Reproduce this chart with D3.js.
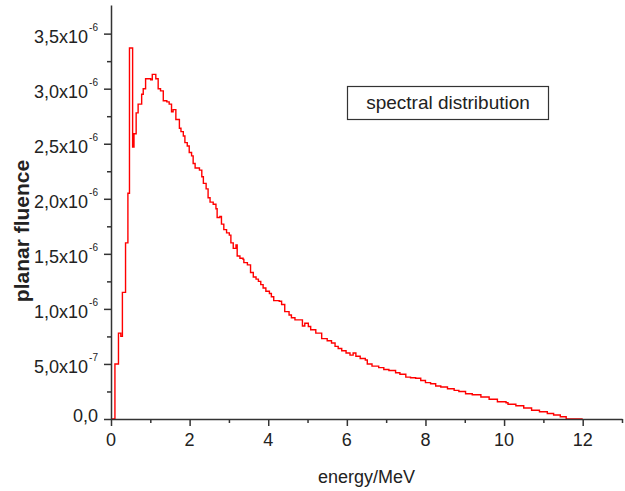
<!DOCTYPE html>
<html>
<head>
<meta charset="utf-8">
<script src="https://cdn.jsdelivr.net/npm/d3@7"></script>
<style>
  html, body { margin: 0; padding: 0; background: #fff; }
  svg { display: block; font-family: "Liberation Sans", Arial, sans-serif; }
</style>
</head>
<body>
<svg id="chart" width="625" height="491"></svg>
<script>
// ---- data (energy in MeV = left bin edge, fluence in units of 1e-6) ----
const energy = [
  0.00, 0.10, 0.19, 0.25, 0.29, 0.37, 0.43, 0.47, 0.55, 0.585,
  0.64, 0.69, 0.78, 0.82, 0.88, 1.01, 1.05, 1.14, 1.20, 1.26,
  1.33, 1.42, 1.48, 1.54, 1.58, 1.65, 1.74, 1.78, 1.84, 1.88,
  1.94, 1.99, 2.05, 2.09, 2.14, 2.25, 2.31, 2.35, 2.42, 2.47,
  2.52, 2.60, 2.67, 2.70, 2.77, 2.81, 2.87, 2.94, 3.01, 3.05,
  3.11, 3.18, 3.21, 3.28, 3.36, 3.38, 3.47, 3.55, 3.62, 3.69,
  3.75, 3.81, 3.87, 3.94, 4.03, 4.08, 4.14, 4.28, 4.34, 4.42,
  4.53, 4.59, 4.68, 4.87, 4.93, 5.02, 5.08, 5.21, 5.36, 5.50,
  5.61, 5.70, 5.78, 5.87, 5.98, 6.08, 6.16, 6.23, 6.34, 6.47,
  6.52, 6.64, 6.81, 6.94, 7.07, 7.24, 7.35, 7.50, 7.62, 7.75,
  7.88, 8.00, 8.13, 8.26, 8.39, 8.56, 8.73, 8.85, 9.02, 9.19,
  9.41, 9.62, 9.83, 10.05, 10.10, 10.30, 10.50, 10.70, 10.90, 11.10,
  11.26, 11.43, 11.58, 12.00
];
const fluence = [
  0.00, 0.50, 0.78, 0.75, 1.15, 1.60, 2.05, 3.37, 2.47, 2.59,
  2.78, 2.86, 2.95, 3.00, 3.09, 3.08, 3.13, 3.09, 3.00, 2.98,
  2.89, 2.88, 2.86, 2.79, 2.81, 2.72, 2.64, 2.61, 2.57, 2.51,
  2.48, 2.42, 2.39, 2.32, 2.28, 2.26, 2.20, 2.14, 2.09, 2.01,
  1.97, 1.95, 1.91, 1.83, 1.84, 1.77, 1.72, 1.69, 1.67, 1.60,
  1.55, 1.58, 1.48, 1.46, 1.45, 1.42, 1.40, 1.33, 1.29, 1.27,
  1.25, 1.22, 1.19, 1.16, 1.14, 1.11, 1.075, 1.07, 1.04, 0.975,
  0.945, 0.92, 0.90, 0.845, 0.87, 0.84, 0.81, 0.78, 0.73, 0.71,
  0.69, 0.66, 0.64, 0.62, 0.60, 0.58, 0.60, 0.57, 0.55, 0.536,
  0.50, 0.48, 0.467, 0.45, 0.44, 0.42, 0.406, 0.38, 0.375, 0.37,
  0.35, 0.33, 0.32, 0.30, 0.29, 0.275, 0.26, 0.25, 0.23, 0.22,
  0.20, 0.18, 0.157, 0.148, 0.134, 0.12, 0.10, 0.08, 0.066, 0.05,
  0.036, 0.02, 0.0, 0.0
];

const xMajorTicks = [0, 2, 4, 6, 8, 10, 12];
const xMinorTicks = [1, 3, 5, 7, 9, 11, 13];
const xTickLabels = ["0", "2", "4", "6", "8", "10", "12"];

const yMajorTicks = [0, 0.5, 1.0, 1.5, 2.0, 2.5, 3.0, 3.5];
const yMinorTicks = [0.25, 0.75, 1.25, 1.75, 2.25, 2.75, 3.25];
const yTickMantissa = ["0,0", "5,0x10", "1,0x10", "1,5x10", "2,0x10", "2,5x10", "3,0x10", "3,5x10"];
const yTickExponent = ["", "-7", "-6", "-6", "-6", "-6", "-6", "-6"];

const legendLabel = "spectral distribution";
const xTitle = "energy/MeV";
const yTitle = "planar fluence";

// ---- layout ----
const svg = d3.select("#chart");
const x = d3.scaleLinear().domain([0, 13]).range([111, 622]);
const y = d3.scaleLinear().domain([0, 3.76]).range([419, 5]);
const axisColor = "#333";

// curve
const pts = energy.map((e, i) => [e, fluence[i]]);
const line = d3.line()
  .x(d => x(d[0]))
  .y(d => y(d[1]))
  .curve(d3.curveStepAfter);
svg.append("path")
  .datum(pts)
  .attr("d", line)
  .attr("fill", "none")
  .attr("stroke", "#ff0000")
  .attr("stroke-width", 1.4)
  .attr("stroke-linejoin", "miter");

// x axis
const gx = svg.append("g").attr("transform", `translate(0,${y(0)})`);
gx.call(d3.axisBottom(x).tickValues(xMajorTicks).tickSize(7).tickSizeOuter(0).tickFormat(""));
const gxm = svg.append("g").attr("transform", `translate(0,${y(0)})`);
gxm.call(d3.axisBottom(x).tickValues(xMinorTicks).tickSize(4).tickSizeOuter(0).tickFormat(""));
gxm.select(".domain").remove();

// y axis
const gy = svg.append("g").attr("transform", `translate(${x(0)},0)`);
gy.call(d3.axisLeft(y).tickValues(yMajorTicks).tickSize(7).tickSizeOuter(0).tickFormat(""));
const gym = svg.append("g").attr("transform", `translate(${x(0)},0)`);
gym.call(d3.axisLeft(y).tickValues(yMinorTicks).tickSize(4).tickSizeOuter(0).tickFormat(""));
gym.select(".domain").remove();

svg.selectAll(".domain, .tick line")
  .attr("stroke", axisColor)
  .attr("stroke-width", 1.5);

// x tick labels
svg.append("g").selectAll("text")
  .data(xMajorTicks)
  .join("text")
  .attr("x", d => x(d))
  .attr("y", 445.5)
  .attr("text-anchor", "middle")
  .attr("font-size", 18)
  .attr("fill", "#222")
  .text((d, i) => xTickLabels[i]);

// y tick labels with superscripts
const yl = svg.append("g").selectAll("text")
  .data(yMajorTicks)
  .join("text")
  .attr("x", 98)
  .attr("y", (d, i) => y(d) + (yTickExponent[i] ? 9.5 : 3))
  .attr("text-anchor", "end")
  .attr("font-size", 18)
  .attr("fill", "#222");
yl.append("tspan").text((d, i) => yTickMantissa[i]);
yl.filter((d, i) => yTickExponent[i] !== "")
  .append("tspan")
  .attr("dx", 1)
  .attr("dy", -12.5)
  .attr("font-size", 10)
  .text((d, i) => yTickExponent[yMajorTicks.indexOf(d)]);

// axis titles
svg.append("text")
  .attr("x", (x(0) + x(13)) / 2)
  .attr("y", 483)
  .attr("text-anchor", "middle")
  .attr("font-size", 18)
  .attr("fill", "#222")
  .text(xTitle);

svg.append("text")
  .attr("transform", "translate(28.5,231) rotate(-90)")
  .attr("text-anchor", "middle")
  .attr("font-size", 21)
  .attr("font-weight", "bold")
  .attr("fill", "#222")
  .text(yTitle);

// legend box
svg.append("rect")
  .attr("x", 347.5)
  .attr("y", 86.5)
  .attr("width", 201)
  .attr("height", 33)
  .attr("fill", "#fff")
  .attr("stroke", "#333")
  .attr("stroke-width", 1.2);
svg.append("text")
  .attr("x", 448)
  .attr("y", 109.3)
  .attr("text-anchor", "middle")
  .attr("font-size", 19)
  .attr("fill", "#222")
  .text(legendLabel);
</script>
</body>
</html>
